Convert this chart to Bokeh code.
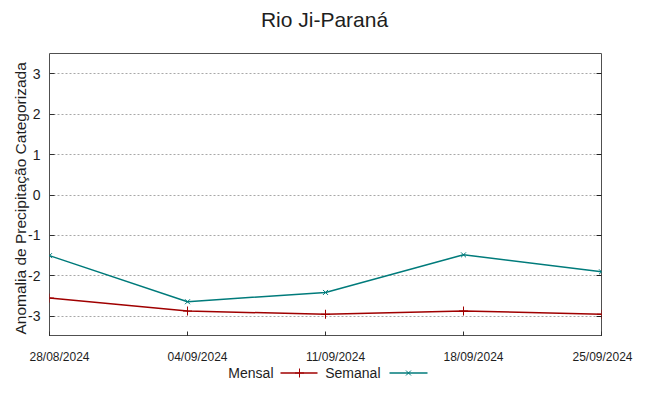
from bokeh.plotting import figure
from bokeh.models import Range1d, FixedTicker, LinearAxis, ColumnDataSource, Title
from bokeh.layouts import column
from bokeh.embed import file_html
from bokeh.resources import INLINE
from bokeh.core.properties import value

# ---- data ----
dates = ["28/08/2024", "04/09/2024", "11/09/2024", "18/09/2024", "25/09/2024"]
mensal = [-2.55, -2.87, -2.95, -2.87, -2.95]
semanal = [-1.50, -2.64, -2.41, -1.48, -1.90]
y_ticks = [-3, -2, -1, 0, 1, 2, 3]
y_tick_labels = ["-3", "-2", "-1", "0", "1", "2", "3"]
title_text = "Rio Ji-Paraná"
y_label_text = "Anomalia de Precipitação Categorizada"
series_names = ["Mensal", "Semanal"]

RED = "#a00000"
TEAL = "#007b7b"
FONT = "Liberation Sans"
TXT = "#1e1e1e"
W = 633
LEFT, RIGHT, FW = 49, 32, 552   # frame placement (pixels)

xs = list(range(len(dates)))
x0, x1 = 0, len(dates) - 1
ppu = FW / (x1 - x0)            # pixels per x unit
# date labels sit a little right of their ticks; the last one is kept inside the page
label_dx = [10] * (len(dates) - 1) + [1]


def strip(h):
    # a text strip whose frame lines up with the plot frame; x in page pixels
    f = figure(frame_width=FW, frame_height=h, output_backend="svg",
               toolbar_location=None,
               x_range=Range1d(LEFT, LEFT + FW), y_range=Range1d(0, h),
               min_border_left=LEFT, min_border_right=RIGHT,
               min_border_top=0, min_border_bottom=0)
    f.axis.visible = False
    f.grid.visible = False
    f.outline_line_color = None
    return f


# ---- main plot ----
p = figure(frame_width=FW, frame_height=283,
           output_backend="svg", toolbar_location=None,
           x_range=Range1d(x0, x1), y_range=Range1d(-3.5, 3.5),
           min_border_left=LEFT, min_border_right=RIGHT, min_border_top=17,
           min_border_bottom=0)

p.outline_line_color = "#505050"
p.outline_line_width = 1

p.xgrid.visible = False
p.ygrid.ticker = FixedTicker(ticks=y_ticks)
p.ygrid.grid_line_color = "#a8a8a8"
p.ygrid.grid_line_dash = "2 2"
p.ygrid.grid_line_width = 1

# tick marks on the bottom edge (date labels are in the strip below)
xa = p.xaxis[0]
xa.ticker = FixedTicker(ticks=xs)
xa.major_label_overrides = {i: "" for i in xs}
xa.axis_line_color = None
xa.major_tick_in = 5
xa.major_tick_out = 0
xa.major_tick_line_color = "#303030"
xa.minor_tick_line_color = None
xa.major_label_standoff = 0
xa.axis_label_standoff = 0

ya = p.yaxis[0]
ya.ticker = FixedTicker(ticks=y_ticks)
ya.major_label_overrides = {t: s for t, s in zip(y_ticks, y_tick_labels)}
ya.axis_line_color = None
ya.major_tick_in = 5
ya.major_tick_out = 0
ya.major_tick_line_color = "#303030"
ya.minor_tick_line_color = None
ya.major_label_standoff = 9
ya.axis_label_standoff = 0
ya.major_label_text_font = FONT
ya.major_label_text_font_size = "14px"
ya.major_label_text_color = TXT

ra = LinearAxis(ticker=FixedTicker(ticks=y_ticks),
                major_label_overrides={t: "" for t in y_ticks},
                axis_line_color=None, major_tick_in=5, major_tick_out=0,
                major_tick_line_color="#202020", minor_tick_line_color=None,
                major_label_standoff=0)
p.add_layout(ra, "right")

ylab = Title(text=y_label_text, align="left", offset=2, standoff=-6,
             text_font=FONT, text_font_size="15.5px", text_font_style="normal",
             text_color=TXT)
p.add_layout(ylab, "left")

src = ColumnDataSource(dict(x=xs, mensal=mensal, semanal=semanal))
p.line("x", "mensal", source=src, line_color=RED, line_width=1.5)
p.scatter("x", "mensal", source=src, marker="cross", size=9, line_color=RED, line_width=1)
p.line("x", "semanal", source=src, line_color=TEAL, line_width=1.5)
p.scatter("x", "semanal", source=src, marker="x", size=7, line_color=TEAL, line_width=1)

# ---- title strip ----
tf = strip(36)
tf.text(x=[324], y=[16.8], text=[title_text], text_align="center",
        text_baseline="middle", text_font=value(FONT), text_font_size="21px",
        text_color=TXT)

# ---- date label strip: full width, same x scale as the plot frame ----
ds = figure(width=W, height=29, output_backend="svg", toolbar_location=None,
            x_range=Range1d(x0 - LEFT / ppu, x1 + RIGHT / ppu),
            y_range=Range1d(0, 29), frame_align=False,
            min_border=0, min_border_left=0, min_border_right=0,
            min_border_top=0, min_border_bottom=0)
ds.axis.visible = False
ds.grid.visible = False
ds.outline_line_color = None
dsrc = ColumnDataSource(dict(x=xs, y=[8.8] * len(xs), text=dates, dx=label_dx))
ds.text(x="x", y="y", text="text", x_offset="dx", source=dsrc, text_align="center",
        text_baseline="middle", text_font=value(FONT), text_font_size="12px",
        text_color=TXT)

# ---- legend strip ----
leg = strip(15)
ly = 7.5
leg.text(x=[273], y=[ly + 0.5], text=[series_names[0]], text_align="right",
         text_baseline="middle", text_font=value(FONT), text_font_size="14px",
         text_color=TXT)
leg.line([280, 317], [ly, ly], line_color=RED, line_width=1.5)
leg.scatter([299], [ly], marker="cross", size=9, line_color=RED)
leg.text(x=[380], y=[ly + 0.5], text=[series_names[1]], text_align="right",
         text_baseline="middle", text_font=value(FONT), text_font_size="14px",
         text_color=TXT)
leg.line([389, 427], [ly, ly], line_color=TEAL, line_width=1.5)
leg.scatter([408], [ly], marker="x", size=7, line_color=TEAL)

layout = column(tf, p, ds, leg, spacing=0)
open("out.html", "w").write(file_html(layout, INLINE))
